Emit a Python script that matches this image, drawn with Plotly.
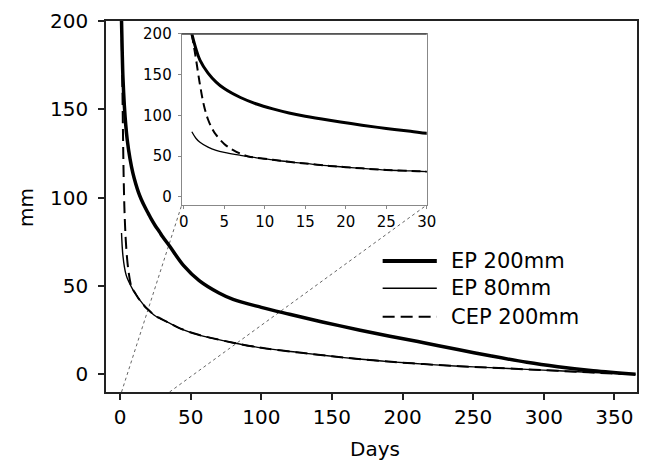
import plotly.graph_objects as go

# ---------------- data ----------------
ep200_days = [1, 1.5, 2, 3, 4, 5, 7, 9, 11, 13, 15, 18, 20, 22, 25, 28, 30, 35, 45, 56,
              70, 80, 100, 120, 144, 170, 191, 215, 240, 262, 288, 310, 335, 365]
ep200_mm = [200, 182, 168, 152, 141, 133, 122, 114, 108, 103, 99, 94, 91, 88, 84, 80.5, 78, 72.6,
            61.5, 53, 46, 42.4, 37.9, 34, 29.5, 25, 21.6, 17.9, 13.9, 10.5, 6.8, 4.3, 2, 0]

ep80_days = [1, 1.5, 2, 3, 4, 5, 7, 9, 11, 13, 15, 18, 20, 22, 25, 28, 30, 35, 44, 55,
             65, 80, 100, 127, 150, 167, 190, 215, 240, 262, 288, 310, 335, 365]
ep80_mm = [80, 72, 67, 61, 57, 54.5, 51, 48, 45.5, 43, 41, 38, 36.5, 35, 33, 31.8, 31, 29,
           25.5, 22.5, 20.5, 17.9, 15, 12.3, 10.2, 8.8, 7.2, 5.8, 4.6, 3.8, 2.8, 2.0, 1.0, 0]

cep200_days_early = [1, 1.25, 1.5, 2, 2.5, 3, 3.5, 4, 5, 6, 7, 8]
cep200_mm_early = [200, 185, 170, 138, 112, 95, 84, 76, 65, 58, 53, 49.5]
# after ~9 days the CEP curve coincides with EP 80mm
cep200_days = cep200_days_early + [d for d in ep80_days if d >= 9]
cep200_mm = cep200_mm_early + [v for d, v in zip(ep80_days, ep80_mm) if d >= 9]

series_names = ["EP 200mm", "EP 80mm", "CEP 200mm"]
x_ticks = [0, 50, 100, 150, 200, 250, 300, 350]
y_ticks = [0, 50, 100, 150, 200]
inset_x_ticks = [0, 5, 10, 15, 20, 25, 30]
inset_y_ticks = [0, 50, 100, 150, 200]
zoom_from_days = [1, 35]
x_title = "Days"
y_title = "mm"

# ---------------- styling ----------------
FONT = "DejaVu Sans, Arial, sans-serif"
main_xr = [-10, 366]
main_yr = [-10, 200]
ins_xr = [-0.25, 30]
ins_yr = [-10, 200]
ins_xdom = [0.1426, 0.604]
ins_ydom = [0.504, 0.965]

styles = [dict(color="black", width=3.5),
          dict(color="black", width=1.4),
          dict(color="black", width=2, dash="12px,6px")]
ins_styles = [dict(color="black", width=3),
              dict(color="black", width=1.3),
              dict(color="black", width=2, dash="9px,5px")]

data = [(ep200_days, ep200_mm), (ep80_days, ep80_mm), (cep200_days, cep200_mm)]

fig = go.Figure()
for (d, v), name, st in zip(data, series_names, styles):
    fig.add_trace(go.Scatter(x=d, y=v, mode="lines", name=name, line=dict(shape="spline", **st),
                             showlegend=False, xaxis="x", yaxis="y"))
for (d, v), name, st in zip(data, series_names, ins_styles):
    fig.add_trace(go.Scatter(x=d, y=v, mode="lines", name=name, line=dict(shape="spline", **st),
                             showlegend=False, xaxis="x2", yaxis="y2"))

def px_main(x):
    return (x - main_xr[0]) / (main_xr[1] - main_xr[0])

shapes = []
# connector (zoom) dotted lines
corners = [(ins_xdom[0], ins_ydom[0]), (ins_xdom[1], ins_ydom[0])]
for d0, (cx, cy) in zip(zoom_from_days, corners):
    shapes.append(dict(type="line", xref="paper", yref="paper", x0=px_main(d0), y0=0,
                       x1=cx, y1=cy, line=dict(color="#666", width=1, dash="dot"), layer="below"))
# darker top border of the inset
shapes.append(dict(type="line", xref="paper", yref="paper", x0=ins_xdom[0], x1=ins_xdom[1],
                   y0=ins_ydom[1], y1=ins_ydom[1], line=dict(color="#444", width=1.5)))

# manual legend
leg_x0, leg_x1, leg_tx = 0.521, 0.623, 0.646
leg_ys = [0.353, 0.2795, 0.203]
annotations = []
for name, st, ly in zip(series_names, styles, leg_ys):
    shapes.append(dict(type="line", xref="paper", yref="paper", x0=leg_x0, x1=leg_x1, y0=ly, y1=ly,
                       line=dict(color=st["color"], width=st["width"] + (0.5 if st["width"] > 3 else 0),
                                 dash=st.get("dash", "solid"))))
    annotations.append(dict(xref="paper", yref="paper", x=leg_tx, y=ly, text=name, showarrow=False,
                            xanchor="left", yanchor="middle", font=dict(family=FONT, size=21, color="black")))

annotations.append(dict(xref="paper", yref="paper", x=0.506, y=-0.1536, text=x_title, showarrow=False,
                        xanchor="center", yanchor="middle", font=dict(family=FONT, size=20, color="black")))
annotations.append(dict(xref="paper", yref="paper", x=-0.1507, y=0.4987, text=y_title, showarrow=False,
                        textangle=-90, xanchor="center", yanchor="middle",
                        font=dict(family=FONT, size=20, color="black")))

# the page places the figure 8px from the top-left corner, so the figure is 8px smaller
fig.update_layout(
    width=641, height=452,
    margin=dict(l=98, r=12, t=13, b=68, autoexpand=False),
    paper_bgcolor="white", plot_bgcolor="white",
    font=dict(family=FONT, size=20, color="black"),
    showlegend=False,
    shapes=shapes, annotations=annotations,
    xaxis=dict(range=main_xr, tickvals=x_ticks, ticks="outside", ticklen=6, tickwidth=1.5,
               tickcolor="#222", showline=True, linecolor="#222", linewidth=1.5, mirror=True,
               showgrid=False, zeroline=False, tickfont=dict(size=20), automargin=False),
    yaxis=dict(range=main_yr, tickvals=y_ticks, ticks="outside", ticklen=6, tickwidth=1.5,
               tickcolor="#222", showline=True, linecolor="#222", linewidth=1.5, mirror=True,
               showgrid=False, zeroline=False, tickfont=dict(size=20), automargin=False,
               ticklabelstandoff=6),
    xaxis2=dict(domain=ins_xdom, anchor="y2", range=ins_xr, tickvals=inset_x_ticks, ticks="outside",
                ticklen=3, tickcolor="#888", showline=True, linecolor="#888", linewidth=1, mirror=True,
                showgrid=False, zeroline=False, tickfont=dict(size=15), automargin=False),
    yaxis2=dict(domain=ins_ydom, anchor="x2", range=ins_yr, tickvals=inset_y_ticks, ticks="outside",
                ticklen=3, tickcolor="#888", showline=True, linecolor="#888", linewidth=1, mirror=True,
                showgrid=False, zeroline=False, tickfont=dict(size=15), automargin=False,
                ticklabelstandoff=3),
)

fig.write_html("out.html")
